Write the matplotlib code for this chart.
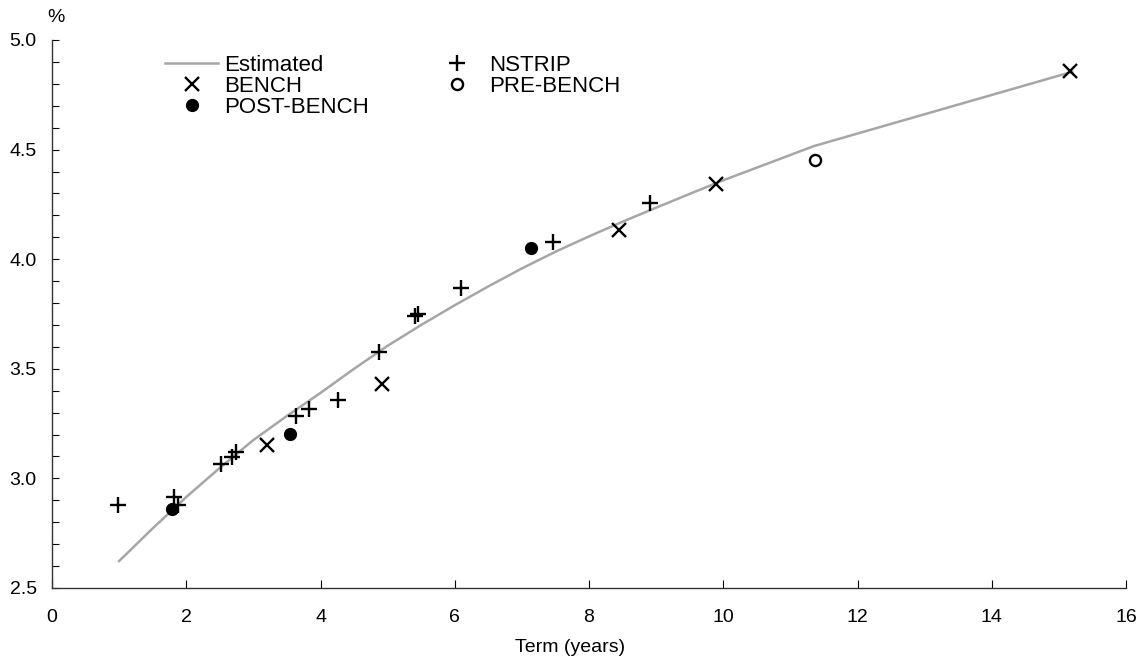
import matplotlib
matplotlib.use("Agg")
import matplotlib.pyplot as plt
import matplotlib.ticker as ticker

plt.rcParams.update({
    "font.family": ["Liberation Sans", "DejaVu Sans"],
    "font.size": 14,
})

# estimated curve
est_term  = [1.0, 1.5, 2.0, 2.5, 3.0, 3.5, 4.0, 4.5, 5.0, 5.5, 6.0, 6.5, 7.0, 7.5, 8.0,
             8.5, 9.0, 9.5, 10.0, 11.35, 15.2]
est_yield = [2.623, 2.772, 2.915, 3.048, 3.175, 3.285, 3.39, 3.50, 3.605, 3.70, 3.79, 3.876,
             3.958, 4.034, 4.104, 4.171, 4.235, 4.298, 4.36, 4.516, 4.855]

nstrip_term  = [0.99, 1.82, 1.88, 2.52, 2.68, 2.74, 3.64, 3.83, 4.26, 4.87, 5.41, 5.45, 6.10, 7.47, 8.91]
nstrip_yield = [2.879, 2.917, 2.879, 3.066, 3.099, 3.122, 3.286, 3.317, 3.358, 3.575, 3.74, 3.75, 3.87, 4.077, 4.258]

bench_term  = [3.20, 4.92, 8.44, 9.89, 15.17]
bench_yield = [3.154, 3.429, 4.133, 4.345, 4.86]

post_term  = [1.79, 3.54, 7.14]
post_yield = [2.859, 3.203, 4.05]

pre_term  = [11.36]
pre_yield = [4.453]

GRAY = "#a6a6a6"
BLACK = "black"

fig = plt.figure(figsize=(11.4, 6.61), dpi=100, facecolor="white")
ax = fig.add_axes([52/1140, 73/661, 1074/1140, 548/661])

h_est, = ax.plot(est_term, est_yield, color=GRAY, lw=1.8, label="Estimated", zorder=2)
h_bench, = ax.plot(bench_term, bench_yield, ls="none", marker="x", ms=10, mew=1.7,
                   color=BLACK, label="BENCH", zorder=3)
h_post, = ax.plot(post_term, post_yield, ls="none", marker="o", ms=8.5,
                  color=BLACK, label="POST-BENCH", zorder=3)
h_nstrip, = ax.plot(nstrip_term, nstrip_yield, ls="none", marker="+", ms=11, mew=1.7,
                    color=BLACK, label="NSTRIP", zorder=3)
h_pre, = ax.plot(pre_term, pre_yield, ls="none", marker="o", ms=8, mew=1.7,
                 mfc="white", mec=BLACK, label="PRE-BENCH", zorder=3)

ax.set_xlim(0, 16)
ax.set_ylim(2.5, 5.0)
ax.xaxis.set_major_locator(ticker.MultipleLocator(2))
ax.yaxis.set_major_locator(ticker.MultipleLocator(0.5))
ax.yaxis.set_minor_locator(ticker.MultipleLocator(0.1))
ax.yaxis.set_major_formatter(ticker.FormatStrFormatter("%.1f"))
ax.tick_params(axis="x", direction="in", length=6, width=0.8, pad=15, labelsize=14)
ax.tick_params(axis="y", which="both", direction="in", length=5, width=0.8, pad=11, labelsize=14)

for side in ["top", "right"]:
    ax.spines[side].set_visible(False)
for side in ["left", "bottom"]:
    ax.spines[side].set_color("#333333")
    ax.spines[side].set_linewidth(1.0)

fig.text(0.5, 1 - 647/661, "Term (years)", ha="center", va="center", fontsize=14)
fig.text(56/1140, 1 - 17/661, "%", ha="center", va="center", fontsize=14)

ax.legend([h_est, h_bench, h_post, h_nstrip, h_pre],
          ["Estimated", "BENCH", "POST-BENCH", "NSTRIP", "PRE-BENCH"],
          ncol=2, frameon=False, loc="upper left",
          bbox_to_anchor=(165/1140, 1 - 55/661), bbox_transform=fig.transFigure,
          borderaxespad=0, borderpad=0, handlelength=2.4, handletextpad=0.27,
          columnspacing=2.75, labelspacing=0.0, fontsize=16)

fig.savefig("out.png", dpi=100, facecolor="white")
